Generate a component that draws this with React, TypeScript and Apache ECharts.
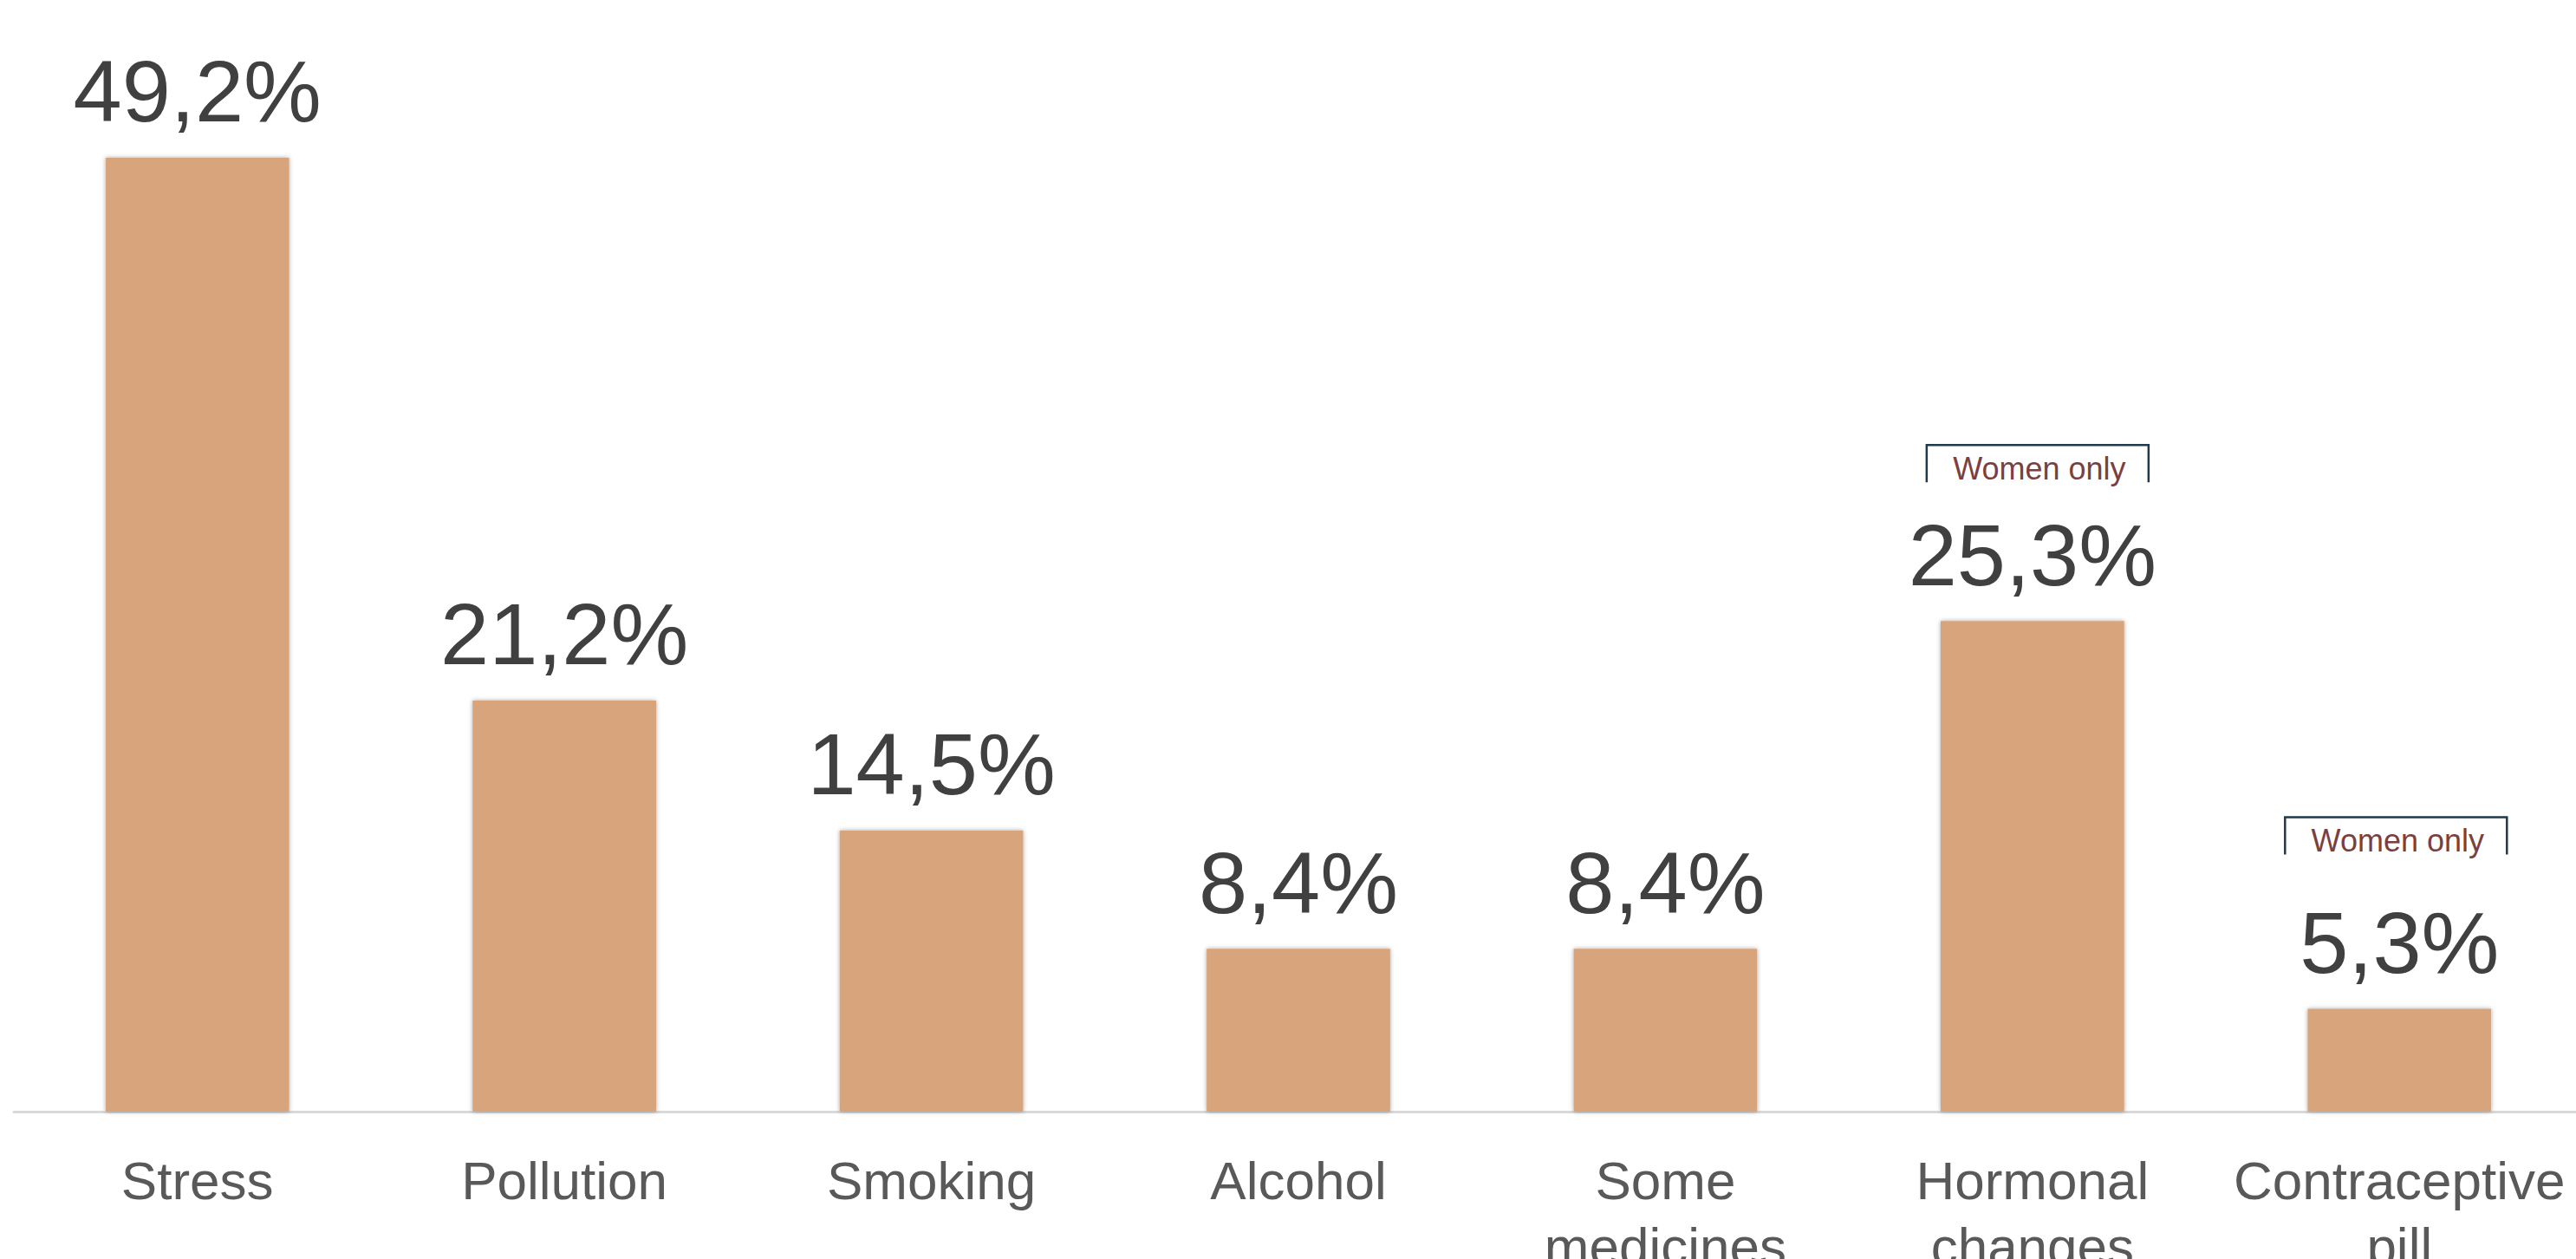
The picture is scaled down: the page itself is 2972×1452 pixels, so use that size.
import React, { useEffect, useRef } from 'react';
import * as echarts from 'echarts';

const categories = ['Stress', 'Pollution', 'Smoking', 'Alcohol', 'Some medicines', 'Hormonal changes', 'Contraceptive pill'];
const values = [49.2, 21.2, 14.5, 8.4, 8.4, 25.3, 5.3];
const annotatedCategories = ['Hormonal changes', 'Contraceptive pill'];
const annotationText = 'Women only';

// styling/offsets for the annotations (pixels relative to bar top centre)
const annotationGaps = [203, 221];
const annotationShiftX = [6, -4];
const BRACKET_HALF = 128;
const BRACKET_H = 43;

export default function App() {
  const ref = useRef<HTMLDivElement>(null);
  useEffect(() => {
    document.body.style.margin = '0';
    document.body.style.overflow = 'hidden';
    document.documentElement.style.overflow = 'hidden';
    const chart = echarts.init(ref.current!, null, { renderer: 'svg' });
    chart.setOption({
      animation: false,
      backgroundColor: '#ffffff',
      grid: { left: 16, right: 10, top: 164, bottom: 170, containLabel: false, outerBoundsMode: 'none' },
      xAxis: {
        type: 'category',
        data: categories,
        axisLine: { show: true, lineStyle: { color: '#d9d9d9', width: 3 } },
        axisTick: { show: false },
        axisLabel: {
          interval: 0,
          margin: 41,
          fontSize: 62,
          lineHeight: 76,
          color: '#595959',
          fontFamily: 'Liberation Sans, Arial, sans-serif',
          formatter: (v: string) => v.replace(' ', '\n'),
        },
      },
      yAxis: { type: 'value', min: 0, max: 50, show: false, splitLine: { show: false } },
      series: [
        {
          type: 'bar',
          data: values,
          barWidth: '50%',
          itemStyle: { color: '#D8A47B', shadowBlur: 5, shadowColor: 'rgba(0,0,0,0.35)' },
          label: {
            show: true,
            position: 'top',
            distance: 26,
            fontSize: 101,
            color: '#404040',
            fontFamily: 'Liberation Sans, Arial, sans-serif',
            formatter: (p: any) => p.value.toFixed(1).replace('.', ',') + '%',
          },
        },
      ],
    });

    const graphics: any[] = [];
    annotatedCategories.forEach((c, i) => {
      const idx = categories.indexOf(c);
      const pt = chart.convertToPixel({ gridIndex: 0 }, [idx, values[idx]]) as number[];
      const cx = pt[0] + annotationShiftX[i];
      const top = pt[1] - annotationGaps[i];
      graphics.push({
        type: 'polyline',
        shape: {
          points: [
            [cx - BRACKET_HALF, top + BRACKET_H],
            [cx - BRACKET_HALF, top],
            [cx + BRACKET_HALF, top],
            [cx + BRACKET_HALF, top + BRACKET_H],
          ],
        },
        style: { stroke: '#1f3a4a', lineWidth: 2.5, fill: 'none' },
        z: 10,
      });
      graphics.push({
        type: 'text',
        x: cx + 2,
        y: top + 27,
        style: {
          text: annotationText,
          fontSize: 36,
          fill: '#7b3f3f',
          fontFamily: 'Liberation Sans, Arial, sans-serif',
          align: 'center',
          verticalAlign: 'middle',
        },
        z: 10,
      });
    });
    chart.setOption({ graphic: graphics });

    return () => chart.dispose();
  }, []);
  return <div ref={ref} style={{ width: 2990, height: 1452 }} />;
}
